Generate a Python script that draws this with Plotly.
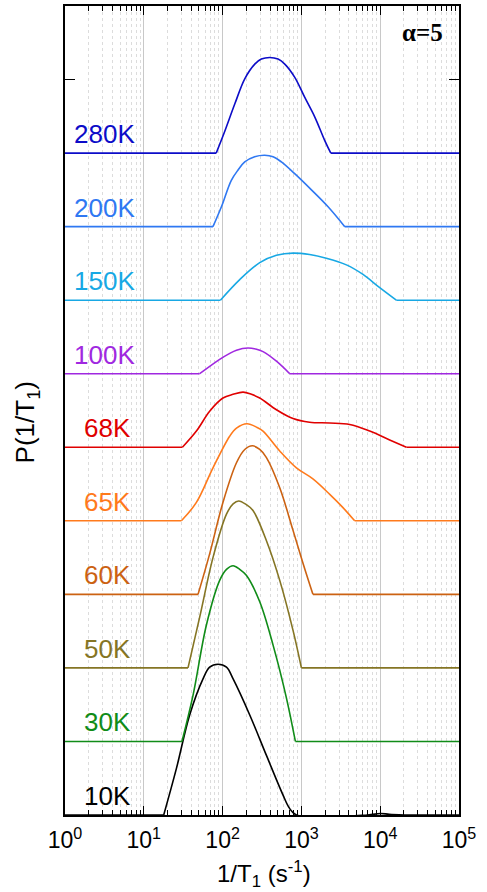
import plotly.graph_objects as go

# ---------------- data ----------------
temperatures = ["10K", "30K", "50K", "60K", "65K", "68K", "100K", "150K", "200K", "280K"]
colors = ["#000000", "#108c18", "#857524", "#cc6212", "#ff7a1c", "#e00000",
          "#a028e0", "#18a8e4", "#2f78f2", "#0c0cc8"]

rate_10K = [17.9, 25.9, 38.2, 56.4, 68.5, 87.5, 112, 136, 221, 360, 585, 708, 865,
            6900, 10000, 13000, 20000]
p_10K = [0, 0.63, 1.36, 1.85, 2.01, 2.05, 2.01, 1.85, 1.36, 0.81, 0.27, 0.09, 0,
         0, 0.02, 0.01, 0]

rate_30K = [30.5, 42.2, 62.2, 91.8, 112, 136, 165, 200, 296, 437, 646, 839]
p_30K = [0, 0.63, 1.58, 2.19, 2.34, 2.39, 2.34, 2.26, 1.90, 1.31, 0.59, 0]

rate_50K = [36.4, 51.2, 75.5, 112, 136, 160, 200, 243, 360, 531, 783, 1000]
p_50K = [0, 0.69, 1.50, 2.09, 2.23, 2.27, 2.22, 2.14, 1.73, 1.19, 0.51, 0]

rate_60K = [48.8, 68.5, 101, 150, 191, 239, 296, 360, 531, 783, 1050, 1400]
p_60K = [0, 0.55, 1.25, 1.79, 1.97, 2.02, 1.97, 1.86, 1.45, 0.87, 0.42, 0]

rate_65K = [30.0, 46.5, 75.5, 123, 150, 204, 274, 326, 531, 865, 1400, 2290, 3370, 4740]
p_65K = [0, 0.25, 0.72, 1.15, 1.26, 1.32, 1.27, 1.22, 0.95, 0.72, 0.57, 0.36, 0.18, 0]

rate_68K = [30.9, 46.5, 68.5, 101, 136, 182, 232, 296, 482, 783, 1270, 2290, 4100, 7360,
            13200, 21500]
p_68K = [0, 0.22, 0.49, 0.67, 0.72, 0.75, 0.72, 0.67, 0.51, 0.39, 0.34, 0.33, 0.31, 0.22,
         0.10, 0]

rate_100K = [51.2, 91.8, 120, 150, 210, 263, 326, 482, 711]
p_100K = [0, 0.195, 0.27, 0.32, 0.35, 0.335, 0.30, 0.17, 0]

rate_150K = [93.8, 165, 296, 482, 783, 1270, 2070, 3720, 6050, 9860, 16000]
p_150K = [0, 0.28, 0.51, 0.61, 0.64, 0.62, 0.57, 0.48, 0.35, 0.17, 0]

rate_200K = [75.5, 96.6, 129, 157, 191, 255, 342, 437, 557, 822, 1340, 2180, 3550]
p_200K = [0, 0.27, 0.63, 0.77, 0.88, 0.95, 0.97, 0.95, 0.88, 0.72, 0.50, 0.27, 0]

rate_280K = [83, 106, 143, 191, 256, 310, 396, 505, 615, 824, 1100, 1480, 1980, 2360]
p_280K = [0, 0.29, 0.67, 1.01, 1.21, 1.278, 1.30, 1.278, 1.21, 1.03, 0.76, 0.49, 0.17, 0]

rates = [rate_10K, rate_30K, rate_50K, rate_60K, rate_65K, rate_68K,
         rate_100K, rate_150K, rate_200K, rate_280K]
probs = [p_10K, p_30K, p_50K, p_60K, p_65K, p_68K, p_100K, p_150K, p_200K, p_280K]

x_range = [1, 1e5]
x_tickvals = [1, 10, 100, 1000, 10000, 100000]
x_ticktext = ["10<sup>0</sup>", "10<sup>1</sup>", "10<sup>2</sup>", "10<sup>3</sup>",
              "10<sup>4</sup>", "10<sup>5</sup>"]

# ---------------- figure ----------------
fig = go.Figure()
for k, (lab, col, xr, pr) in enumerate(zip(temperatures, colors, rates, probs)):
    off = k
    fig.add_trace(go.Scatter(x=[x_range[0], xr[0]], y=[off, off], mode="lines",
                             line=dict(color=col, width=1.6), showlegend=False,
                             hoverinfo="skip"))
    fig.add_trace(go.Scatter(x=[xr[-1], x_range[1]], y=[off, off], mode="lines",
                             line=dict(color=col, width=1.6), showlegend=False,
                             hoverinfo="skip"))
    fig.add_trace(go.Scatter(x=xr, y=[off + p for p in pr], mode="lines",
                             line=dict(color=col, width=1.6, shape="spline", smoothing=1.0),
                             name=lab, showlegend=False))
    fig.add_annotation(x=0.91 if len(lab) == 4 else 0.863, xref="x", xanchor="right",
                       y=off, yref="y", yanchor="bottom", yshift=2,
                       text=lab, showarrow=False,
                       font=dict(family="Liberation Sans, Arial", size=26, color=col))

fig.add_annotation(x=0.907, y=0.987, xref="paper", yref="paper", xanchor="center",
                   yanchor="top", text="<b>α=5</b>", showarrow=False,
                   font=dict(family="Liberation Serif, Times New Roman", size=25,
                             color="black"))

fig.add_annotation(x=-0.097, y=0.485, xref="paper", yref="paper", xanchor="center",
                   yanchor="middle", textangle=-90, text="P(1/T<sub>1</sub>)",
                   showarrow=False,
                   font=dict(family="Liberation Sans, Arial", size=26, color="black"))

fig.add_annotation(x=0.504, y=-0.049, xref="paper", yref="paper", xanchor="center",
                   yanchor="top", text="1/T<sub>1</sub> (s<sup>-1</sup>)",
                   showarrow=False,
                   font=dict(family="Liberation Sans, Arial", size=24, color="black"))

fig.update_xaxes(type="log", range=[0, 5], tickvals=x_tickvals, ticktext=x_ticktext,
                 ticks="inside", ticklen=9, tickwidth=1, tickcolor="black",
                 showline=True, linecolor="black", linewidth=1.5, mirror="allticks",
                 showgrid=True, gridcolor="#c8c8c8", gridwidth=1,
                 ticklabelstandoff=4,
                 tickfont=dict(family="Liberation Sans, Arial", size=23, color="black"),
                 minor=dict(ticks="inside", ticklen=5, tickcolor="black", dtick="D1",
                            showgrid=True, gridcolor="#dcdcdc", griddash="dot", gridwidth=1),
                 zeroline=False)
fig.update_yaxes(range=[0, 11], tickvals=[10], ticks="inside", ticklen=10,
                 tickcolor="black", showticklabels=False,
                 showline=True, linecolor="black", linewidth=1.5, mirror="ticks",
                 showgrid=False, zeroline=False)

fig.update_layout(width=487, height=892, margin=dict(l=65, r=28, t=4, b=77),
                  plot_bgcolor="white", paper_bgcolor="white", showlegend=False)

fig.write_html("out.html", config={"displayModeBar": False},
               post_script="document.body.style.margin='0';document.body.style.overflow='hidden';")
